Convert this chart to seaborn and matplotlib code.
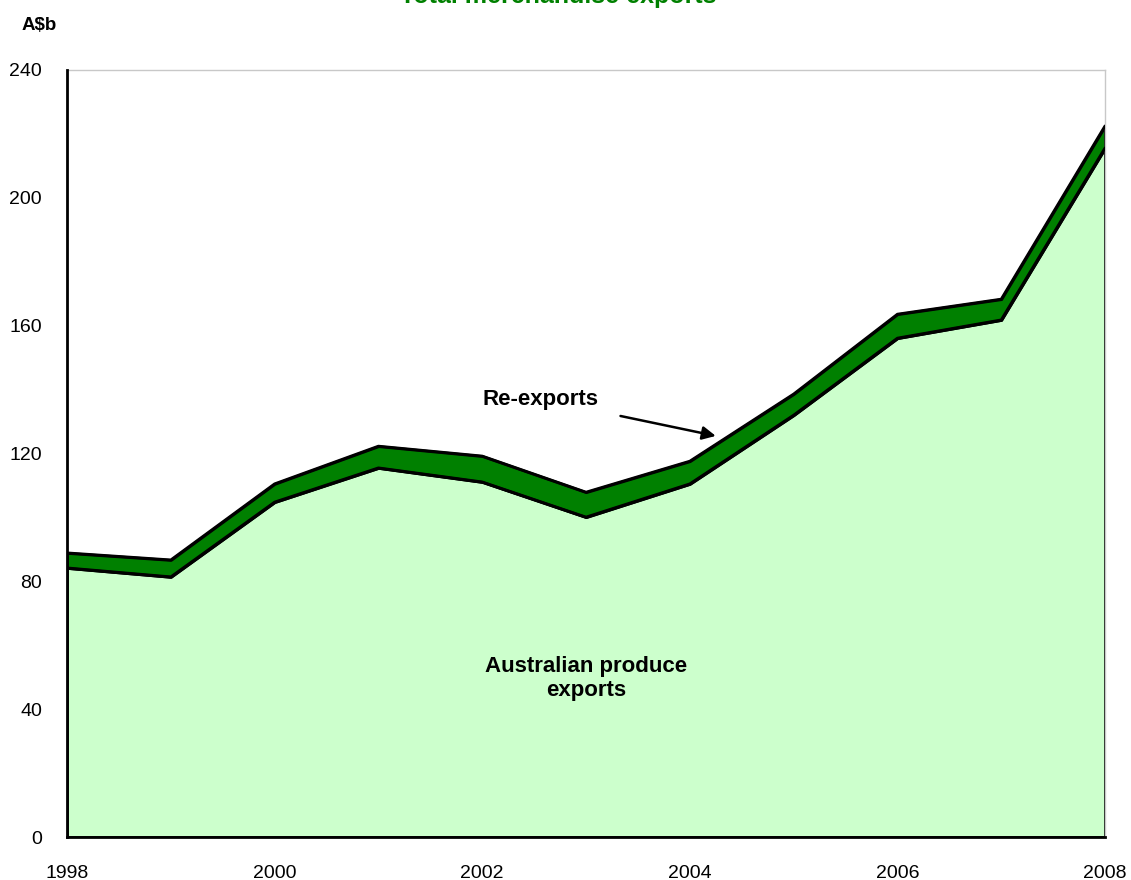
import matplotlib
matplotlib.use('Agg')
import numpy as np
import pandas as pd
import seaborn as sns
import matplotlib.pyplot as plt

years = list(range(1998, 2009))
produce = [84.2, 81.4, 104.8, 115.5, 111.1, 100.1, 110.5, 132.0, 156.1, 161.8, 215.6]
reexports = [4.7, 5.3, 5.7, 6.8, 8.1, 7.8, 7.1, 6.6, 7.5, 6.5, 6.9]
yticks = [0, 40, 80, 120, 160, 200, 240]

sns.set_style('white')
plt.rcParams['font.family'] = ['Liberation Sans', 'DejaVu Sans']
plt.rcParams['text.color'] = 'black'
plt.rcParams['xtick.color'] = 'black'
plt.rcParams['ytick.color'] = 'black'
plt.rcParams['axes.labelcolor'] = 'black'

df = pd.DataFrame({'year': years, 'produce': produce, 'reexports': reexports})
df['total'] = df['produce'] + df['reexports']

fig = plt.figure(figsize=(11.31, 8.8), dpi=100)
ax = fig.add_axes([67 / 1131, 43 / 880, (1105 - 67) / 1131, (837 - 70) / 880])

ax.fill_between(df['year'], 0, df['produce'], facecolor='#CCFFCC', edgecolor='black', linewidth=2, zorder=2)
ax.fill_between(df['year'], df['produce'], df['total'], facecolor='#008000', edgecolor='black', linewidth=2, zorder=2)
sns.lineplot(data=df, x='year', y='produce', color='black', linewidth=2, ax=ax, zorder=3)
sns.lineplot(data=df, x='year', y='total', color='black', linewidth=2, ax=ax, zorder=3)

ax.set_xlim(1998, 2008)
ax.set_ylim(0, 240)
ax.set_xticks(years)
ax.set_xticklabels([str(y) if y % 2 == 0 else '' for y in years])
ax.set_yticks(yticks)
ax.set_xlabel('')
ax.set_ylabel('')
ax.tick_params(axis='both', labelsize=14, labelcolor='black', direction='out',
               length=5, width=1, color='black')
ax.tick_params(axis='x', pad=15)
ax.tick_params(axis='y', pad=13)

for s in ['left', 'bottom']:
    ax.spines[s].set_color('black')
    ax.spines[s].set_linewidth(2)
    ax.spines[s].set_zorder(4)
for s in ['top', 'right']:
    ax.spines[s].set_color('#c8c8c8')
    ax.spines[s].set_linewidth(1)

fig.text(558 / 1131, 1 - 3 / 880, 'Total merchandise exports', color='#008000',
         fontsize=18, fontweight='bold', ha='center', va='baseline')
fig.text(22 / 1131, 1 - 25 / 880, 'A$b', fontsize=13.5, fontweight='bold',
         color='black', ha='left', va='center')

ax.annotate('Re-exports', xy=(2004.25, 125.5), xytext=(2002.0, 137.0),
            fontsize=16, fontweight='bold', color='black', ha='left', va='center',
            arrowprops=dict(arrowstyle='-|>', color='black', lw=1.8, mutation_scale=20,
                            shrinkA=14, shrinkB=0))
ax.text(2003.0, 49.5, 'Australian produce\nexports', fontsize=16, fontweight='bold',
        color='black', ha='center', va='center', linespacing=1.2)

fig.savefig('out.png', dpi=100)
